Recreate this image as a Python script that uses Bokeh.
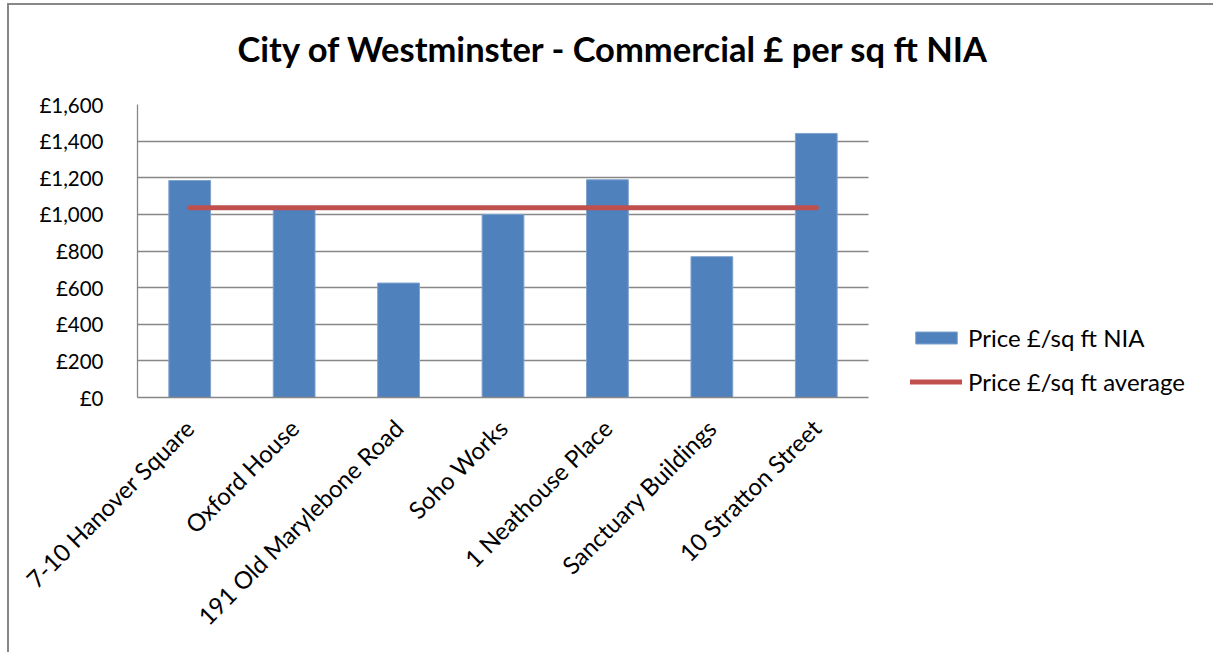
from math import pi
from bokeh.plotting import figure
from bokeh.models import (ColumnDataSource, Range1d, FixedTicker, Legend,
                          LegendItem, Title)
from bokeh.embed import file_html
from bokeh.resources import INLINE

# ---------------- data ----------------
categories = ["7-10 Hanover Square", "Oxford House", "191 Old Marylebone Road",
              "Soho Works", "1 Neathouse Place", "Sanctuary Buildings",
              "10 Stratton Street"]
price_nia = [1185, 1040, 625, 1000, 1189, 769, 1442]
price_avg_value = 1036
price_avg = [price_avg_value] * len(categories)
y_ticks = [0, 200, 400, 600, 800, 1000, 1200, 1400, 1600]
y_tick_labels = ["£0", "£200", "£400", "£600", "£800", "£1,000", "£1,200",
                 "£1,400", "£1,600"]
title_text = "City of Westminster - Commercial £ per sq ft NIA"
series_names = ["Price £/sq ft NIA", "Price £/sq ft average"]

# ---------------- layout ----------------
W, H = 1213, 652
FL, FR, FT, FB = 137, 868, 104, 397          # plot-area edges in the picture
FONT = "Lato"
GRID = "#878787"

n = len(categories)
xpos = list(range(n))                         # category slots 0..n-1
cat_px = (FR - FL) / n                        # pixels per category slot
x_end = -0.5 + (W - FL) / cat_px              # frame runs to the right edge (legend area)

src = ColumnDataSource(dict(x=xpos, cat=categories, nia=price_nia, avg=price_avg))

p = figure(width=W, height=H, x_range=Range1d(-0.5, x_end),
           y_range=Range1d(0, 1600), output_backend="svg",
           toolbar_location=None, title=None,
           min_border_left=FL, min_border_right=0,
           min_border_top=FT, min_border_bottom=H - FB)
p.outline_line_color = None
p.background_fill_color = "white"
p.border_fill_color = None
# outer chart-area border (top and left edges) drawn behind the canvas
p.styles = {
    "background-color": "white",
    "background-image": "linear-gradient(#878787, #878787), linear-gradient(#878787, #878787)",
    "background-repeat": "no-repeat, no-repeat",
    "background-position": "7px 3px, 7px 3px",
    "background-size": "100% 2px, 2px 100%",
}

# title: a small spacer panel next to the frame, then the title itself
spacer = Title(text=" ", text_font=FONT, text_font_size="28px", standoff=0)
p.add_layout(spacer, "above")
main_title = Title(text=title_text, text_font=FONT, text_font_size="34.5px",
                   text_font_style="bold", text_color="black", align="left",
                   offset=100, standoff=0, vertical_align="bottom")
p.add_layout(main_title, "above")

# grid (restricted to the category area)
p.xgrid.grid_line_color = None
p.ygrid.ticker = FixedTicker(ticks=y_ticks)
if "cross_bounds" in p.ygrid[0].properties():
    p.ygrid.cross_bounds = (-0.5, n - 0.5)
    p.ygrid.grid_line_color = GRID
    p.ygrid.grid_line_width = 1.3
else:
    p.ygrid.grid_line_color = None
    p.segment(x0=[-0.5] * len(y_ticks), x1=[n - 0.5] * len(y_ticks),
              y0=y_ticks, y1=y_ticks, line_color=GRID, line_width=1.3)

bars = p.vbar(x="x", top="nia", width=0.4, source=src,
              fill_color="#4F81BD", line_color="#7FA3CE", line_width=1)
avg_line = p.line(x="x", y="avg", source=src, line_color="#C0504D",
                  line_width=5, line_cap="round")

# axes
p.yaxis.ticker = FixedTicker(ticks=y_ticks)
p.yaxis.major_label_overrides = {t: l for t, l in zip(y_ticks, y_tick_labels)}
p.yaxis.major_tick_line_color = None
p.yaxis.minor_tick_line_color = None
p.yaxis.axis_line_color = GRID
p.yaxis.axis_line_width = 1.3
p.yaxis.major_label_standoff = 28
p.yaxis.major_label_text_font = FONT
p.yaxis.major_label_text_font_size = "20.5px"
p.yaxis.major_label_text_color = "black"

p.xaxis.ticker = FixedTicker(ticks=xpos)
p.xaxis.major_label_overrides = {x: c for x, c in zip(xpos, categories)}
p.xaxis.bounds = (-0.5, n - 0.5)
p.xaxis.major_label_orientation = pi / 4
p.xaxis.major_tick_line_color = None
p.xaxis.minor_tick_line_color = None
p.xaxis.axis_line_color = GRID
p.xaxis.axis_line_width = 1.3
p.xaxis.major_label_standoff = 20
p.xaxis.major_label_text_font = FONT
p.xaxis.major_label_text_font_size = "24px"
p.xaxis.major_label_text_color = "black"

# legend (inside the frame's right part, which has no grid)
legend = Legend(items=[LegendItem(label=series_names[0], renderers=[bars]),
                       LegendItem(label=series_names[1], renderers=[avg_line])],
                location=(910 - FL, 1), orientation="vertical",
                glyph_width=52, glyph_height=15, label_height=29,
                label_standoff=6, spacing=15, padding=0, margin=0,
                border_line_color=None, background_fill_alpha=0,
                label_text_font=FONT, label_text_font_size="24px",
                label_text_color="black")
p.add_layout(legend)

open("out.html", "w").write(file_html(p, INLINE))
